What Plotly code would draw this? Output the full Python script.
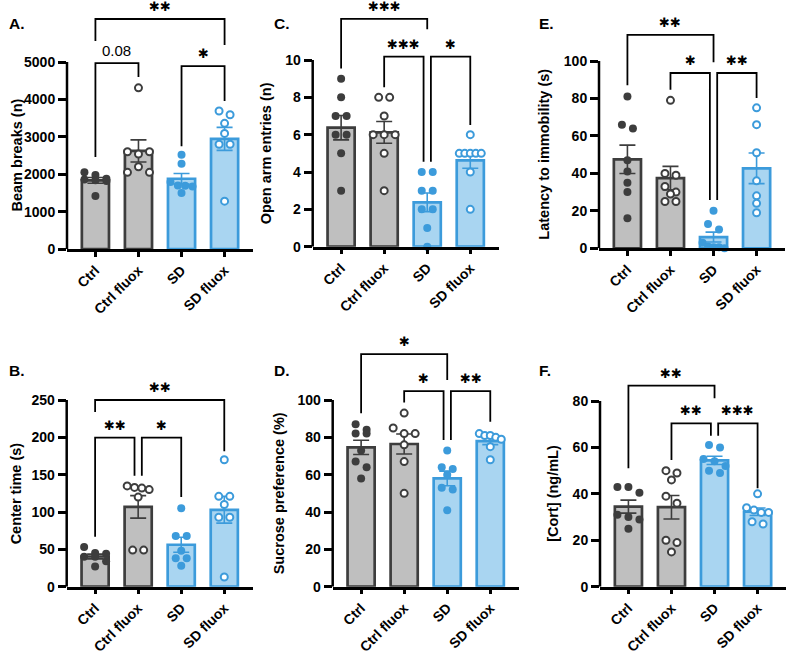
import numpy as np
import plotly.graph_objects as go

W, H = 787, 652

GROUPS = ["Ctrl", "Ctrl fluox", "SD", "SD fluox"]

# ---- data (one list per group: Ctrl, Ctrl fluox, SD, SD fluox) ----
beam_breaks = [
    [2050, 1980, 1880, 1860, 1840, 1820, 1420],
    [4310, 2600, 2540, 2600, 2050, 2200, 2050],
    [2520, 2280, 1790, 1700, 1690, 1670, 1500],
    [3690, 3590, 3360, 3090, 2800, 2800, 1280],
]
open_arm_entries = [
    [9, 8, 7, 7, 6, 6, 5, 3],
    [8, 8, 7, 6, 6, 6, 5, 3],
    [4, 4, 3, 3, 2, 2, 1, 0],
    [6, 5, 5, 5, 5, 5, 4, 2],
]
latency_immobility = [
    [81, 66, 64, 47, 41, 35, 30, 16],
    [79, 40, 39, 33, 30, 29, 25, 25],
    [20, 13, 10, 3, 1, 0.5, 0.5, 0],
    [75, 66, 51, 36, 28, 24, 19],
]
center_time = [
    [53, 45, 44, 40, 40, 34, 27],
    [135, 133, 132, 130, 120, 49, 49],
    [105, 68, 68, 48, 38, 38, 28],
    [170, 121, 121, 110, 93, 93, 13],
]
sucrose_preference = [
    [87, 84, 82, 82, 73, 67, 64, 58],
    [93, 85, 82, 82, 76, 67, 50],
    [73, 64, 63, 60, 53, 52, 41],
    [82, 81, 81, 80, 79, 75, 68],
]
cort = [
    [43, 43, 40.5, 31, 30, 29, 25],
    [50, 49, 46, 39, 36, 20, 19, 15],
    [61, 60, 55, 54, 52, 50, 49],
    [40, 34, 33, 32, 32, 28, 27],
]

beam_ticks = [0, 1000, 2000, 3000, 4000, 5000]
open_arm_ticks = [0, 2, 4, 6, 8, 10]
latency_ticks = [0, 20, 40, 60, 80, 100]
center_ticks = [0, 50, 100, 150, 200, 250]
sucrose_ticks = [0, 20, 40, 60, 80, 100]
cort_ticks = [0, 20, 40, 60, 80]

# significance brackets: (group i, group j, bracket height, left leg end, right leg end, label)
beam_sig = [(0, 3, 6150, 5560, 5455, "**"), (0, 1, 4970, 2460, 4600, "0.08"), (2, 3, 4890, 2750, 3960, "*")]
open_arm_sig = [(0, 2, 12.2, 9.55, 11.65, "***"), (1, 2, 10.18, 8.54, 4.55, "***"), (2, 3, 10.18, 4.55, 6.52, "*")]
latency_sig = [(0, 2, 114, 87, 99.3, "**"), (1, 2, 93.6, 84.7, 25.8, "*"), (2, 3, 93.6, 25.8, 80.2, "**")]
center_sig = [(0, 3, 250, 234, 181.5, "**"), (0, 1, 199.7, 67, 148.4, "**"), (1, 2, 199.7, 148.4, 120, "*")]
sucrose_sig = [(0, 2, 124.6, 92.9, 110.7, "*"), (1, 2, 104.8, 98.6, 78.6, "*"), (2, 3, 104.8, 78.6, 88.4, "**")]
cort_sig = [(0, 2, 86.6, 51, 81.2, "**"), (1, 2, 70.4, 54.6, 65, "**"), (2, 3, 70.4, 65, 42.4, "***")]

# ---- styles ----
GRAY_FILL = "#BFBFBF"
GRAY_LINE = "#3D3D3D"
BLUE_FILL = "#A9D5F1"
BLUE_LINE = "#3C9BDB"
FONT = "Liberation Sans, Arial, sans-serif"
STAR_FONT = "DejaVu Sans"

panels = [
    dict(label="A.", data=beam_breaks, ticks=beam_ticks, sig=beam_sig, title="Beam breaks (n)",
         x_left=67, zero=249, top_px=62, dom_top=0, title_x=16, label_x=7, label_y=23),
    dict(label="C.", data=open_arm_entries, ticks=open_arm_ticks, sig=open_arm_sig, title="Open arm entries (n)",
         x_left=312.7, zero=246.7, top_px=60, dom_top=0, title_x=266, label_x=272, label_y=23),
    dict(label="E.", data=latency_immobility, ticks=latency_ticks, sig=latency_sig, title="Latency to immobility (s)",
         x_left=599, zero=248.3, top_px=61, dom_top=0, title_x=544, label_x=537, label_y=23),
    dict(label="B.", data=center_time, ticks=center_ticks, sig=center_sig, title="Center time (s)",
         x_left=66.7, zero=586.7, top_px=400, dom_top=300, title_x=16, label_x=7, label_y=370),
    dict(label="D.", data=sucrose_preference, ticks=sucrose_ticks, sig=sucrose_sig, title="Sucrose preference (%)",
         x_left=332.7, zero=586.7, top_px=400, dom_top=300, title_x=279, label_x=272, label_y=370),
    dict(label="F.", data=cort, ticks=cort_ticks, sig=cort_sig, title="[Cort] (ng/mL)",
         x_left=600, zero=586.7, top_px=401, dom_top=300, title_x=553, label_x=537, label_y=370),
]

AXIS_W = 186
XR = [-0.66, 3.66]
PX_PER_CAT = AXIS_W / (XR[1] - XR[0])
BAR_W = 0.63


def beeswarm(values, ppu):
    """Horizontal offsets (category units) for points that would overlap."""
    rows = []
    for idx, v in enumerate(values):
        ypx = v * ppu
        if rows and abs(ypx - rows[-1][0]) < 7:
            rows[-1][1].append(idx)
        else:
            rows.append([ypx, [idx]])
    offs = [0.0] * len(values)
    for _, members in rows:
        n = len(members)
        if n == 1:
            continue
        sp = min(11.0, 22.0 / (n - 1))
        for k, idx in enumerate(members):
            offs[idx] = (k - (n - 1) / 2) * sp / PX_PER_CAT
    return offs


fig = go.Figure()
layout = dict(width=W, height=H, margin=dict(l=0, r=0, t=0, b=0, autoexpand=False), autosize=False,
              paper_bgcolor="white", plot_bgcolor="rgba(0,0,0,0)", showlegend=False)
shapes, annotations = [], []

for k, p in enumerate(panels, start=1):
    sfx = "" if k == 1 else str(k)
    xa, ya = "x" + sfx, "y" + sfx
    ppu = (p["zero"] - p["top_px"]) / p["ticks"][-1]
    ymax = (p["zero"] - p["dom_top"]) / ppu
    data = p["data"]
    means = [float(np.mean(g)) for g in data]
    sems = [float(np.std(g, ddof=1) / np.sqrt(len(g))) for g in data]

    for sl, fill, line in ((slice(0, 2), GRAY_FILL, GRAY_LINE), (slice(2, 4), BLUE_FILL, BLUE_LINE)):
        xs = list(range(4))[sl]
        fig.add_trace(go.Bar(
            x=xs, y=means[sl], width=BAR_W, xaxis=xa, yaxis=ya, hoverinfo="skip",
            marker=dict(color=fill, line=dict(color=line, width=2.7)),
            error_y=dict(type="data", array=sems[sl], color=line, thickness=1.6, width=8),
        ))

    for gi, vals in enumerate(data):
        col = GRAY_LINE if gi < 2 else BLUE_LINE
        offs = beeswarm(vals, ppu)
        xs = [gi + o for o in offs]
        if gi % 2 == 0:
            mk = dict(size=8, color=col, line=dict(width=0))
        else:
            mk = dict(size=7, color="white", line=dict(color=col, width=2))
        fig.add_trace(go.Scatter(x=xs, y=vals, mode="markers", marker=mk, xaxis=xa, yaxis=ya,
                                 cliponaxis=False, hoverinfo="skip"))

    layout["xaxis" + sfx] = dict(
        domain=[p["x_left"] / W, (p["x_left"] + AXIS_W) / W], range=XR, anchor=ya, automargin=False,
        tickvals=[0, 1, 2, 3], ticktext=GROUPS, tickangle=-45,
        tickfont=dict(family=FONT, size=14, color="black", weight="bold"),
        showline=True, linecolor="black", linewidth=2.5, ticks="outside", ticklen=5,
        tickwidth=2.5, tickcolor="black", showgrid=False, zeroline=False, fixedrange=True)
    layout["yaxis" + sfx] = dict(
        domain=[1 - p["zero"] / H, 1 - p["dom_top"] / H], range=[0, ymax], anchor=xa, automargin=False,
        tickvals=p["ticks"], ticktext=[str(t) for t in p["ticks"]],
        tickfont=dict(family=FONT, size=14, color="black", weight="bold"),
        showline=False, ticks="outside", ticklen=8, tickwidth=2.5, tickcolor="black",
        showgrid=False, zeroline=False, fixedrange=True)

    # y axis line only up to the top tick
    shapes.append(dict(type="line", xref=f"{xa} domain", yref=ya, x0=0, x1=0, y0=0, y1=p["ticks"][-1],
                       line=dict(color="black", width=2.5)))

    # significance brackets
    adj = [(s[0], s[1]) for s in p["sig"] if s[1] - s[0] == 1]
    for (i, j, ytop, yi, yj, lab) in p["sig"]:
        xi, xj = float(i), float(j)
        if j - i == 1:
            if any(b == i for (a, b) in adj):
                xi += 0.085
            if any(a == j for (a, b) in adj):
                xj -= 0.085
        shapes.append(dict(type="path", xref=xa, yref=ya,
                           path=f"M {xi},{yi} L {xi},{ytop} L {xj},{ytop} L {xj},{yj}",
                           line=dict(color="black", width=1.8)))
        if lab.startswith("*"):
            annotations.append(dict(x=(xi + xj) / 2, y=ytop, xref=xa, yref=ya, text=lab.replace("*", "\u2731"),
                                    showarrow=False, yanchor="bottom", yshift=3,
                                    font=dict(family=STAR_FONT, size=13, color="black")))
        else:
            annotations.append(dict(x=(xi + xj) / 2, y=ytop, xref=xa, yref=ya, text=lab,
                                    showarrow=False, yanchor="bottom", yshift=2,
                                    font=dict(family=FONT, size=15, color="black")))

    # axis title
    annotations.append(dict(x=p["title_x"] / W, y=1 - ((p["zero"] + p["top_px"]) / 2) / H,
                            xref="paper", yref="paper", text=p["title"], textangle=-90,
                            showarrow=False, xanchor="center", yanchor="middle",
                            font=dict(family=FONT, size=14.5, color="black", weight="bold")))
    # panel label
    annotations.append(dict(x=p["label_x"] / W, y=1 - p["label_y"] / H, xref="paper", yref="paper",
                            text=p["label"], showarrow=False, xanchor="left", yanchor="middle",
                            font=dict(family=FONT, size=15.5, color="black", weight="bold")))

layout["shapes"] = shapes
layout["annotations"] = annotations
fig.update_layout(**layout)
fig.write_html("out.html", config={"displayModeBar": False},
               post_script="document.body.style.margin='0';document.body.style.overflow='hidden';")
